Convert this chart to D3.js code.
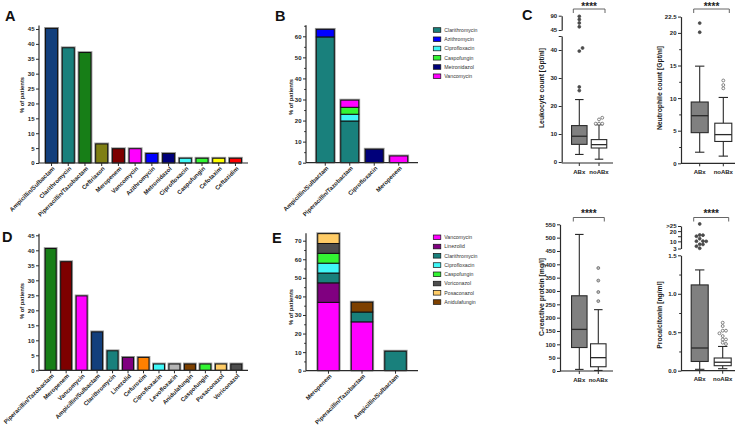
<!DOCTYPE html>
<html><head><meta charset="utf-8">
<script src="https://cdn.jsdelivr.net/npm/d3@7"></script>
<style>
body{margin:0;background:#fff;}
svg{display:block;font-family:Arial,"Liberation Sans",sans-serif;}
</style></head><body>
<svg id="c" width="742" height="427"></svg>
<script>
// ---------------- DATA ----------------
const catsA = ["Ampicillin/Sulbactam","Clarithromycin","Piperacillin/Tazobactam","Ceftriaxon","Meropenem","Vancomycin","Azithromycin","Metronidazol","Ciprofloxacin","Caspofungin","Cefotaxim","Ceftazidim"];
const valsA = [45.2, 38.7, 37.1, 6.4, 4.8, 4.8, 3.2, 3.2, 1.6, 1.6, 1.6, 1.6];
const ticksA = [0,5,10,15,20,25,30,35,40,45];

const catsB = ["Ampicillin/Sulbactam","Piperacillin/Tazobactam","Ciprofloxacin","Meropenem"];
const seriesB = ["Clarithromycin","Azithromycin","Ciprofloxacin","Caspofungin","Metronidazol","Vancomycin"];
const bClarithromycin = [59.7, 19.8, 0, 0];
const bAzithromycin   = [3.6, 0, 0, 0];
const bCiprofloxacin  = [0, 3.2, 0, 0];
const bCaspofungin    = [0, 3.3, 0, 0];
const bMetronidazol   = [0, 0, 6.4, 0];
const bVancomycin     = [0, 3.4, 0, 3.2];
const ticksB = [0,10,20,30,40,50,60];
const minorB = [5,15,25,35,45,55,65];

const catsD = ["Piperacillin/Tazobactam","Meropenem","Vancomycin","Ampicillin/Sulbactam","Clarithromycin","Linezolid","Cefuroxim","Ciprofloxacin","Levofloxacin","Anidulafungin","Caspofungin","Posaconazol","Voriconazol"];
const valsD = [40.6, 36.2, 24.8, 12.8, 6.5, 4.3, 4.3, 2.1, 2.1, 2.1, 2.1, 2.1, 2.1];
const ticksD = [0,5,10,15,20,25,30,35,40,45];

const catsE = ["Meropenem","Piperacillin/Tazobactam","Ampicillin/Sulbactam"];
const seriesE = ["Vancomycin","Linezolid","Clarithromycin","Ciprofloxacin","Caspofungin","Voriconazol","Posaconazol","Anidulafungin"];
const eVancomycin     = [36.8, 26.3, 0];
const eLinezolid      = [10.5, 0, 0];
const eClarithromycin = [5.3, 5.3, 10.5];
const eCiprofloxacin  = [5.3, 0, 0];
const eCaspofungin    = [5.3, 0, 0];
const eVoriconazol    = [5.3, 0, 0];
const ePosaconazol    = [5.3, 0, 0];
const eAnidulafungin  = [0, 5.3, 0];
const ticksE = [0,10,20,30,40,50,60,70];
const minorE = [5,15,25,35,45,55,65];

const groups = ["ABx","noABx"];
// [min, Q1, median, Q3, max]
const leukoBox = [[2.7, 6.3, 9.2, 13.0, 22.3],[1.0, 5.0, 6.2, 8.0, 13.3]];
const leukoOutABx = [25.5, 26.8, 39.6, 40.7, 55, 67, 78, 88];
const leukoOutNoABx = [13.7, 13.7, 13.7, 15.2, 15.8];
const leukoTicksLow = [0,10,20,30,40,45];
const leukoLabelsLow = ["0","10","20","30","40",""];
const leukoTicksHigh = [45,90];

const neutroBox = [[1.7, 4.7, 7.3, 9.4, 14.9],[1.1, 3.35, 4.4, 6.15, 10.1]];
const neutroOutABx = [20.1, 21.5];
const neutroOutNoABx = [11.5, 12.0, 12.7];
const neutroTicks = [0,5,10,15,20,22.5];
const neutroMinor = [2.5,7.5,12.5,17.5];

const crpBox = [[6, 88, 156, 282, 512],[2, 16, 50, 102, 230]];
const crpOutABx = [];
const crpOutNoABx = [262, 296, 339, 386];
const crpTicks = [0,50,100,150,200,250,300,350,400,450,500,550];

const pctBox = [[0.018, 0.12, 0.295, 1.115, 1.31],[0.026, 0.065, 0.11, 0.165, 0.315]];
const pctOutABx = [27, 16.2, 16, 15, 12.6, 10.2, 10.1, 10, 7.1, 7, 5.2, 3.2];
const pctOutNoABx = [0.624, 0.58, 0.52, 0.52, 0.486, 0.45, 0.406, 0.406, 0.364, 0.347];
const pctTicksLow = [0, 0.5, 1.0, 1.5];
const pctLabelsLow = ["0.0","0.5","1.0","1.5"];
const pctMinorLow = [0.25, 0.75, 1.25];
const pctTicksHigh = [3, 10, 15, 20, 25];
const pctLabelsHigh = ["3","10","","20",">25"];

// ---------------- STYLE ----------------
const COL = {
  "Ampicillin/Sulbactam":"#123f7c","Clarithromycin":"#19807c","Piperacillin/Tazobactam":"#177e17",
  "Ceftriaxon":"#7f7f14","Meropenem":"#7d0000","Vancomycin":"#ff00ff","Azithromycin":"#0000ff",
  "Metronidazol":"#00007a","Ciprofloxacin":"#40f7f7","Caspofungin":"#33f533","Cefotaxim":"#ffff00",
  "Ceftazidim":"#ff0000","Linezolid":"#800080","Cefuroxim":"#ff8000","Levofloxacin":"#b4b4b4",
  "Anidulafungin":"#7d4000","Posaconazol":"#ffcc66","Voriconazol":"#4d4d4d"
};
const AX = "#2b2b2b";
const FONT = "Arial, 'Liberation Sans', sans-serif";
const svg = d3.select("#c");

function styleAxis(ga, fs) {
  ga.attr("font-family", FONT).attr("font-size", fs);
  ga.select(".domain").attr("stroke", AX).attr("stroke-width", 1.2);
  ga.selectAll(".tick line").attr("stroke", AX).attr("stroke-width", 1);
  ga.selectAll(".tick text").attr("font-weight", "bold").attr("fill", "#222");
}

function letter(t, x, y) {
  svg.append("text").attr("x", x).attr("y", y).text(t)
    .attr("font-size", 14.5).attr("font-weight", "bold").attr("fill", "#111");
}

function yTitle(t, x, cy, fs, bold) {
  svg.append("text").attr("transform", `translate(${x},${cy}) rotate(-90)`)
    .attr("text-anchor", "middle").attr("font-size", fs).attr("font-weight", bold ? "bold" : "normal")
    .attr("fill", "#1a1a1a").text(t);
}

function barChart(cfg) {
  const x = d3.scaleBand().domain(cfg.cats).range([cfg.x0, cfg.x1]).paddingInner(cfg.pi).paddingOuter(cfg.po);
  const y = d3.scaleLinear().domain([0, cfg.refVal]).range([cfg.y0, cfg.refPix]);
  const rows = cfg.cats.map((c, i) => { const o = {cat: c}; cfg.keys.forEach((k, j) => o[k] = cfg.series[j][i]); return o; });
  const stacked = d3.stack().keys(cfg.keys)(rows);
  const g = svg.append("g");
  g.selectAll("rect.halo").data(rows).join("rect")
    .attr("x", d => x(d.cat) - 1.4).attr("width", x.bandwidth() + 2.8)
    .attr("y", d => y(d3.sum(cfg.keys, k => d[k])) - 1.4)
    .attr("height", d => y(0) - y(d3.sum(cfg.keys, k => d[k])) + 1.4)
    .attr("fill", "#9a9a9a");
  stacked.forEach((layer, j) => {
    g.selectAll(null).data(layer.filter(d => d[1] - d[0] > 0)).join("rect")
      .attr("x", d => x(d.data.cat)).attr("width", x.bandwidth())
      .attr("y", d => y(d[1])).attr("height", d => y(d[0]) - y(d[1]))
      .attr("fill", d => cfg.color(cfg.keys[j], d.data.cat))
      .attr("stroke", "#111").attr("stroke-width", 1);
  });
  const ga = svg.append("g").attr("transform", `translate(${cfg.x0},0)`)
    .call(d3.axisLeft(y).tickValues(cfg.ticks).tickSize(3).tickSizeOuter(0).tickPadding(1.5));
  ga.select(".domain").attr("d", `M0,${y(0)}V${y(cfg.axisTop)}`);
  styleAxis(ga, 6);
  if (cfg.minor) {
    const gm = svg.append("g").attr("transform", `translate(${cfg.x0},0)`)
      .call(d3.axisLeft(y).tickValues(cfg.minor).tickSize(1.8).tickFormat(""));
    gm.select(".domain").remove();
    gm.selectAll("line").attr("stroke", AX);
  }
  svg.append("line").attr("x1", cfg.x0).attr("x2", cfg.x1).attr("y1", y(0)).attr("y2", y(0))
    .attr("stroke", AX).attr("stroke-width", 1.2);
  svg.append("g").selectAll("line").data(cfg.cats).join("line")
    .attr("x1", d => x(d) + x.bandwidth() / 2).attr("x2", d => x(d) + x.bandwidth() / 2)
    .attr("y1", y(0)).attr("y2", y(0) + 3).attr("stroke", AX).attr("stroke-width", 1);
  svg.append("g").selectAll("text").data(cfg.cats).join("text")
    .attr("transform", d => `translate(${x(d) + x.bandwidth() / 2 + 2},${y(0) + 4.5}) rotate(-45)`)
    .attr("text-anchor", "end").attr("dy", "0.35em")
    .attr("font-size", 6).attr("font-weight", "bold").attr("fill", "#222").text(d => d);
  return {x, y};
}

function legend(keys, x0, yc, step) {
  const g = svg.append("g");
  keys.forEach((k, i) => {
    const cy = yc + i * step;
    g.append("rect").attr("x", x0).attr("y", cy - 2.3).attr("width", 7.5).attr("height", 4.6)
      .attr("fill", COL[k]).attr("stroke", "#111").attr("stroke-width", 0.7);
    g.append("text").attr("x", x0 + 11).attr("y", cy).attr("dy", "0.35em")
      .attr("font-size", 5.2).attr("fill", "#333").text(k);
  });
}

function swarm(ys, cx, r) {
  const placed = [];
  return ys.map(y => {
    const offs = [0];
    for (let k = 1; k < 8; k++) offs.push(k * 2.1 * r, -k * 2.1 * r);
    for (const o of offs) {
      const x = cx + o;
      if (placed.every(p => Math.hypot(p[0] - x, p[1] - y) >= 2 * r)) { placed.push([x, y]); return [x, y]; }
    }
    placed.push([cx, y]); return [cx, y];
  });
}

function boxPanel(cfg) {
  const x = d3.scalePoint().domain(groups).range(cfg.centers);
  const yOf = v => (cfg.high && v > cfg.breakVal) ? cfg.high.scale(v) : cfg.low.scale(v);
  [cfg.low, cfg.high].filter(Boolean).forEach(s => {
    const ga = svg.append("g").attr("transform", `translate(${cfg.ax},0)`)
      .call(d3.axisLeft(s.scale).tickValues(s.ticks).tickSize(3).tickSizeOuter(0).tickPadding(1.5)
        .tickFormat((d, i) => s.labels ? s.labels[i] : d));
    styleAxis(ga, 6);
    if (s.minor) {
      const gm = svg.append("g").attr("transform", `translate(${cfg.ax},0)`)
        .call(d3.axisLeft(s.scale).tickValues(s.minor).tickSize(1.8).tickFormat(""));
      gm.select(".domain").remove();
      gm.selectAll("line").attr("stroke", AX);
    }
  });
  svg.append("line").attr("x1", cfg.ax).attr("x2", cfg.xEnd).attr("y1", cfg.y0).attr("y2", cfg.y0)
    .attr("stroke", AX).attr("stroke-width", 1.2);
  groups.forEach(gname => {
    svg.append("line").attr("x1", x(gname)).attr("x2", x(gname)).attr("y1", cfg.y0).attr("y2", cfg.y0 + 3)
      .attr("stroke", AX).attr("stroke-width", 1);
    svg.append("text").attr("x", x(gname)).attr("y", cfg.y0 + 10.5).attr("text-anchor", "middle")
      .attr("font-size", 6).attr("font-weight", "bold").attr("fill", "#1a1a1a").text(gname);
  });
  cfg.stats.forEach((s, i) => {
    const cx = x(groups[i]), hw = cfg.bw / 2;
    const g = svg.append("g").attr("stroke", "#2a2a2a").attr("stroke-width", 1.1);
    g.append("line").attr("x1", cx).attr("x2", cx).attr("y1", yOf(s[0])).attr("y2", yOf(s[1]));
    g.append("line").attr("x1", cx).attr("x2", cx).attr("y1", yOf(s[3])).attr("y2", yOf(s[4]));
    g.append("line").attr("x1", cx - hw * 0.55).attr("x2", cx + hw * 0.55).attr("y1", yOf(s[0])).attr("y2", yOf(s[0]));
    g.append("line").attr("x1", cx - hw * 0.55).attr("x2", cx + hw * 0.55).attr("y1", yOf(s[4])).attr("y2", yOf(s[4]));
    g.append("rect").attr("x", cx - hw).attr("width", cfg.bw).attr("y", yOf(s[3])).attr("height", yOf(s[1]) - yOf(s[3]))
      .attr("fill", i === 0 ? "#808080" : "#ffffff");
    g.append("line").attr("x1", cx - hw).attr("x2", cx + hw).attr("y1", yOf(s[2])).attr("y2", yOf(s[2]))
      .attr("stroke-width", 1.3);
  });
  cfg.outliers.forEach((arr, i) => {
    const pts = swarm(arr.map(yOf), x(groups[i]), 1.55);
    svg.append("g").selectAll("circle").data(pts).join("circle")
      .attr("cx", d => d[0]).attr("cy", d => d[1]).attr("r", 1.45)
      .attr("fill", i === 0 ? "#4a4a4a" : (cfg.grayOpen ? "#bdbdbd" : "#ffffff"))
      .attr("stroke", i === 0 ? "#4a4a4a" : "#666")
      .attr("stroke-width", 0.8);
  });
  const bx0 = x(groups[0]) - 6, bx1 = x(groups[1]) + 6;
  svg.append("path").attr("d", `M${bx0},${cfg.brY + 4}V${cfg.brY}H${bx1}V${cfg.brY + 4}`)
    .attr("fill", "none").attr("stroke", "#555").attr("stroke-width", 0.9);
  svg.append("text").attr("x", (bx0 + bx1) / 2).attr("y", cfg.starY).attr("text-anchor", "middle")
    .attr("font-size", 10).attr("font-weight", "bold").attr("fill", "#222").text("****");
  yTitle(cfg.title, cfg.titleX, cfg.titleY, 6.8, true);
}

// ---------------- PANEL A ----------------
letter("A", 5, 21);
barChart({cats: catsA, keys: ["v"], series: [valsA], color: (k, c) => COL[c],
  x0: 39, x1: 248, pi: 0.28, po: 0.39, y0: 163, refVal: 45, refPix: 29, axisTop: 46.2, ticks: ticksA});
yTitle("% of patients", 24, 95, 5.8, true);

// ---------------- PANEL B ----------------
letter("B", 275, 21);
barChart({cats: catsB, keys: seriesB,
  series: [bClarithromycin, bAzithromycin, bCiprofloxacin, bCaspofungin, bMetronidazol, bVancomycin],
  color: (k) => COL[k], x0: 306, x1: 418, pi: 0.265, po: 0.42, y0: 162.7, refVal: 60, refPix: 36.3,
  axisTop: 65.2, ticks: ticksB, minor: minorB});
yTitle("% of patients", 292.5, 97, 5.8, true);
legend(seriesB, 433.3, 30, 9.25);

// ---------------- PANEL D ----------------
letter("D", 2, 242);
barChart({cats: catsD, keys: ["v"], series: [valsD], color: (k, c) => COL[c],
  x0: 39, x1: 248, pi: 0.29, po: 0.4, y0: 370.3, refVal: 45, refPix: 235.3, axisTop: 45.5, ticks: ticksD});
yTitle("% of patients", 24, 301, 5.8, true);

// ---------------- PANEL E ----------------
letter("E", 272, 243);
barChart({cats: catsE, keys: seriesE,
  series: [eVancomycin, eLinezolid, eClarithromycin, eCiprofloxacin, eCaspofungin, eVoriconazol, ePosaconazol, eAnidulafungin],
  color: (k) => COL[k], x0: 306, x1: 418, pi: 0.36, po: 0.35, y0: 370.7, refVal: 70, refPix: 240.7,
  axisTop: 74, ticks: ticksE, minor: minorE});
yTitle("% of patients", 292.5, 307, 5.8, true);
legend(seriesE, 433.3, 237.3, 9.25);

// ---------------- PANEL C ----------------
letter("C", 522, 19.5);
boxPanel({ax: 561.7, xEnd: 613, y0: 163, centers: [579.3, 599], bw: 15.5,
  low: {scale: d3.scaleLinear().domain([0, 45]).range([162, 36]), ticks: leukoTicksLow, labels: leukoLabelsLow},
  high: {scale: d3.scaleLinear().domain([45, 90]).range([30, 15.7]), ticks: leukoTicksHigh},
  breakVal: 45, stats: leukoBox, outliers: [leukoOutABx, leukoOutNoABx],
  brY: 9, starY: 10, title: "Leukocyte count [Gpt/nl]", titleX: 544, titleY: 88});

boxPanel({ax: 681, xEnd: 735, y0: 163.3, centers: [699.7, 723.3], bw: 17,
  low: {scale: d3.scaleLinear().domain([0, 22.5]).range([163.3, 16.6]), ticks: neutroTicks, minor: neutroMinor},
  stats: neutroBox, outliers: [neutroOutABx, neutroOutNoABx],
  brY: 9, starY: 10, title: "Neutrophile count [Gpt/nl]", titleX: 662, titleY: 88});

boxPanel({ax: 560, xEnd: 613, y0: 371, centers: [579.3, 598.3], bw: 15.5,
  low: {scale: d3.scaleLinear().domain([0, 550]).range([371, 224.3]), ticks: crpTicks},
  stats: crpBox, outliers: [crpOutABx, crpOutNoABx], grayOpen: true,
  brY: 217.5, starY: 216.5, title: "C-reactive protein [mg/l]", titleX: 544, titleY: 297});

boxPanel({ax: 681, xEnd: 735, y0: 370.7, centers: [699.7, 722.7], bw: 17,
  low: {scale: d3.scaleLinear().domain([0, 1.5]).range([370.7, 255.3]), ticks: pctTicksLow, labels: pctLabelsLow, minor: pctMinorLow},
  high: {scale: d3.scaleLinear().domain([3, 25]).range([248.5, 226]), ticks: pctTicksHigh, labels: pctLabelsHigh},
  breakVal: 2, stats: pctBox, outliers: [pctOutABx, pctOutNoABx],
  brY: 217.5, starY: 216.5, title: "Procalcitonin [ng/ml]", titleX: 662, titleY: 315});
</script>
</body></html>
